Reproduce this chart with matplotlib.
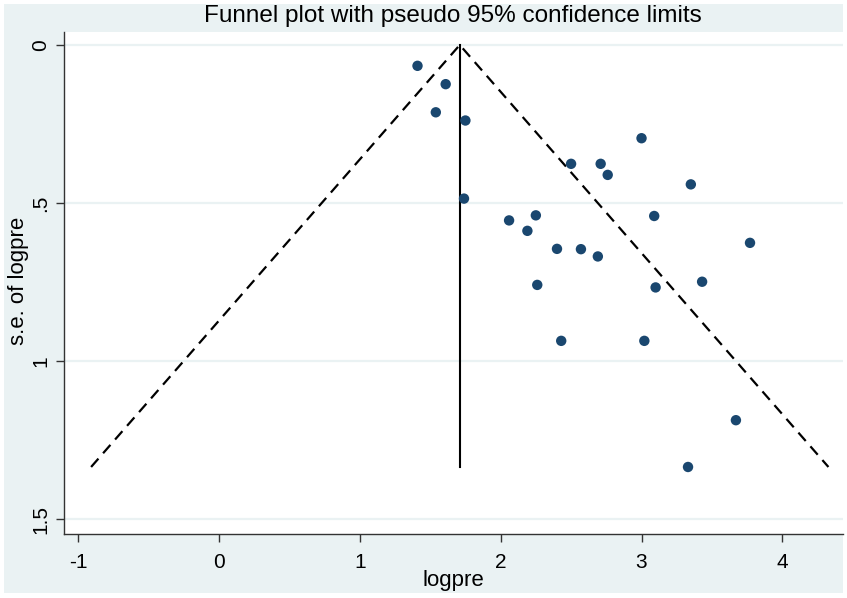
import matplotlib
matplotlib.use("Agg")
import matplotlib.pyplot as plt
from matplotlib.patches import Rectangle

plt.rcParams['font.family'] = ['Liberation Sans', 'DejaVu Sans']

# Study estimates (logpre) and their standard errors
logpre = [1.41, 1.61, 1.54, 1.75, 3.00, 2.50, 2.71, 2.76, 3.35, 1.74,
          2.06, 2.25, 3.09, 2.19, 2.40, 2.57, 2.69, 3.77, 2.26, 3.10,
          3.43, 2.43, 3.02, 3.67, 3.33]
se_logpre = [0.066, 0.124, 0.213, 0.239, 0.295, 0.376, 0.376, 0.411, 0.441, 0.486,
             0.555, 0.539, 0.541, 0.588, 0.645, 0.646, 0.669, 0.626, 0.759, 0.767,
             0.749, 0.936, 0.936, 1.187, 1.335]

theta = 1.71      # pooled estimate
se_max = 1.335    # funnel depth
z = 1.96

x_ticks = [-1, 0, 1, 2, 3, 4]
x_tick_labels = ['-1', '0', '1', '2', '3', '4']
y_ticks = [0, 0.5, 1, 1.5]
y_tick_labels = ['0', '.5', '1', '1.5']

W, H = 847, 598
fig = plt.figure(figsize=(W / 100, H / 100), dpi=100, facecolor='white')
bg = '#EAF2F3'
fig.patches.append(Rectangle((4 / W, 5 / H), 839 / W, 589 / H,
                             transform=fig.transFigure, facecolor=bg,
                             edgecolor='none', zorder=-10))

ax = fig.add_axes([64 / W, (H - 534) / H, (843 - 64) / W, (534 - 32) / H])
ax.set_facecolor('white')

for yv in y_ticks:
    ax.axhline(yv, color=bg, lw=1.6, zorder=0)

# funnel
ax.plot([theta - z * se_max, theta, theta + z * se_max], [se_max, 0, se_max],
        color='black', lw=1.6, ls=(0, (5, 3.2)), zorder=2)
ax.plot([theta, theta], [0, se_max], color='black', lw=1.5, zorder=2)

ax.scatter(logpre, se_logpre, s=56, color='#1A476F', edgecolors='none', zorder=3)

ax.set_xlim(-1.099, 4.43)
ax.set_ylim(1.547, -0.041)

ax.set_xticks(x_ticks)
ax.set_xticklabels(x_tick_labels)
ax.set_yticks(y_ticks)
ax.set_yticklabels(y_tick_labels, rotation=90, va='center')

for s in ['top', 'right']:
    ax.spines[s].set_visible(False)
for s in ['left', 'bottom']:
    ax.spines[s].set_color('#333333')
    ax.spines[s].set_linewidth(1.0)

ax.tick_params(axis='both', direction='out', length=5.8, width=1.0,
               color='#333333', labelsize=15)
ax.tick_params(axis='x', pad=8)
ax.tick_params(axis='y', pad=4)

fig.text(453 / W, 1 - 22 / H, 'Funnel plot with pseudo 95% confidence limits',
         ha='center', va='baseline', fontsize=17.5)
fig.text(453 / W, 1 - 586 / H, 'logpre', ha='center', va='baseline', fontsize=16)
fig.text(24 / W, 1 - 281 / H, 's.e. of logpre', ha='center', va='baseline',
         rotation=90, rotation_mode='anchor', fontsize=16)

fig.savefig('out.png', dpi=100, facecolor='white')
